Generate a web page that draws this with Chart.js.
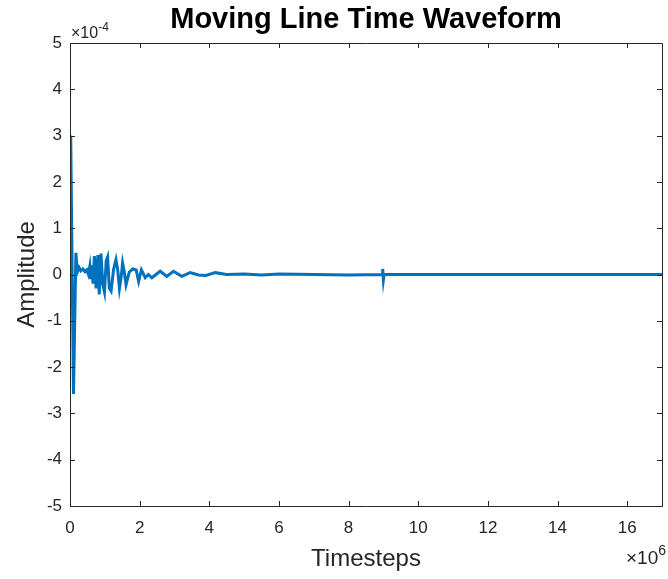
<!DOCTYPE html>
<html><head><meta charset="utf-8">
<script src="https://cdn.jsdelivr.net/npm/chart.js@4"></script>
<style>html,body{margin:0;padding:0;background:#fff}#c{display:block}</style>
</head><body>
<canvas id="c" width="668" height="579"></canvas>
<script>
// Timesteps in units of 1e6
const timesteps = [0, 0.02, 0.10, 0.17, 0.21, 0.26, 0.31, 0.37, 0.43, 0.48, 0.53, 0.57, 0.60, 0.63, 0.66, 0.70, 0.75, 0.80, 0.84, 0.89, 0.94, 0.99, 1.04, 1.08, 1.13, 1.18, 1.25, 1.32, 1.37, 1.42, 1.47, 1.51, 1.56, 1.61, 1.70, 1.80, 1.90, 1.97, 2.05, 2.16, 2.25, 2.35, 2.59, 2.78, 2.97, 3.21, 3.45, 3.69, 3.90, 4.17, 4.50, 5.00, 5.50, 6.00, 7.00, 8.00, 8.96, 8.98, 9.00, 9.02, 10.0, 12.0, 14.0, 16.0, 17.0];
// Amplitude in units of 1e-4
const amplitude = [0, 3.0, -2.58, 0.47, 0.05, 0.15, 0.08, 0.12, 0.06, 0.10, 0.0, 0.18, -0.10, 0.20, -0.20, 0.40, -0.30, 0.42, -0.43, 0.45, -0.20, -0.38, 0.30, 0.38, -0.30, -0.36, 0.10, 0.32, 0.10, -0.30, -0.05, 0.25, 0.05, -0.22, 0.05, 0.12, 0.10, -0.15, 0.10, -0.07, 0.0, -0.07, 0.07, -0.04, 0.07, -0.04, 0.04, -0.01, -0.02, 0.04, 0.0, 0.01, -0.01, 0.01, 0.0, -0.01, 0.0, 0.12, -0.11, 0.0, 0.0, 0.0, 0.0, 0.0, 0.0];
const xTicks = [0, 2, 4, 6, 8, 10, 12, 14, 16];
const yTicks = [-5, -4, -3, -2, -1, 0, 1, 2, 3, 4, 5];
const xRange = [0, 17];
const yRange = [-5, 5];
const titleText = 'Moving Line Time Waveform';
const xLabel = 'Timesteps';
const yLabel = 'Amplitude';

const AX = '#262626';
const FONT = "'Liberation Sans', Arial, sans-serif";

const decor = {
  id: 'decor',
  afterDraw(chart) {
    const {ctx, chartArea: a, scales: {x, y}} = chart;
    ctx.save();
    ctx.strokeStyle = AX; ctx.lineWidth = 1;
    ctx.beginPath();
    ctx.rect(Math.round(a.left) + 0.5, Math.round(a.top) + 0.5, Math.round(a.right - a.left), Math.round(a.bottom - a.top));
    const tl = 5;
    xTicks.forEach(v => {
      const p = Math.round(x.getPixelForValue(v)) + 0.5;
      ctx.moveTo(p, a.bottom); ctx.lineTo(p, a.bottom - tl);
      ctx.moveTo(p, a.top); ctx.lineTo(p, a.top + tl);
    });
    yTicks.forEach(v => {
      const p = Math.round(y.getPixelForValue(v)) + 0.5;
      ctx.moveTo(a.left, p); ctx.lineTo(a.left + tl, p);
      ctx.moveTo(a.right, p); ctx.lineTo(a.right - tl, p);
    });
    ctx.stroke();
    // title
    ctx.fillStyle = '#000';
    ctx.font = 'bold 29px ' + FONT;
    ctx.textAlign = 'center'; ctx.textBaseline = 'middle';
    ctx.fillText(titleText, (a.left + a.right) / 2, 20);
    // exponents
    ctx.fillStyle = AX;
    ctx.textAlign = 'left'; ctx.textBaseline = 'alphabetic';
    ctx.font = '16px ' + FONT;
    ctx.fillText('\u00d710', a.left + 1, a.top - 5);
    let w = ctx.measureText('\u00d710').width;
    ctx.font = '12px ' + FONT;
    ctx.fillText('-4', a.left + 1 + w, a.top - 12);
    ctx.font = '14px ' + FONT;
    const sw = ctx.measureText('6').width;
    ctx.font = '19px ' + FONT;
    const bw = ctx.measureText('\u00d710').width;
    const rx = 666 - sw - bw;
    ctx.fillText('\u00d710', rx, 564);
    ctx.font = '14px ' + FONT;
    ctx.fillText('6', rx + bw, 555);
    ctx.restore();
  }
};

new Chart(document.getElementById('c'), {
  type: 'line',
  data: {
    datasets: [{
      data: timesteps.map((t, i) => ({x: t, y: amplitude[i]})),
      borderColor: '#0072BD',
      borderWidth: 3,
      pointRadius: 0,
      tension: 0,
      fill: false
    }]
  },
  options: {
    responsive: false,
    animation: false,
    layout: {padding: {top: 43, right: 6, left: 0, bottom: 0}},
    plugins: {legend: {display: false}, tooltip: {enabled: false}, title: {display: false}},
    scales: {
      x: {
        type: 'linear', min: xRange[0], max: xRange[1],
        afterBuildTicks: s => { s.ticks = xTicks.map(v => ({value: v})); },
        afterFit: s => { s.height = 73; },
        grid: {display: false, drawTicks: false},
        border: {display: false},
        ticks: {color: AX, font: {family: FONT, size: 17}, padding: 12, maxRotation: 0, autoSkip: false},
        title: {display: true, text: xLabel, color: AX, font: {family: FONT, size: 24}, padding: {top: 0, bottom: 5}}
      },
      y: {
        type: 'linear', min: yRange[0], max: yRange[1],
        afterBuildTicks: s => { s.ticks = yTicks.map(v => ({value: v})); },
        afterFit: s => { s.width = 70; },
        grid: {display: false, drawTicks: false},
        border: {display: false},
        ticks: {color: AX, font: {family: FONT, size: 17}, padding: 8, autoSkip: false},
        title: {display: true, text: yLabel, color: AX, font: {family: FONT, size: 24}, padding: {top: 13, bottom: 0}}
      }
    }
  },
  plugins: [decor]
});
</script>
</body></html>
